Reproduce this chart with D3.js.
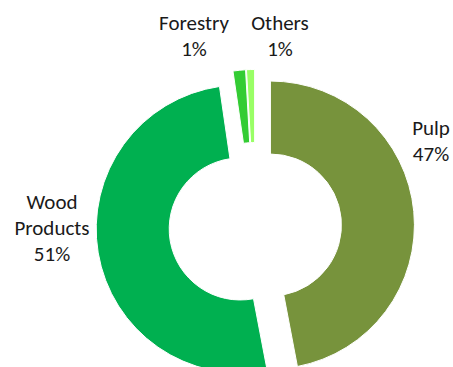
<!DOCTYPE html>
<html>
<head>
<meta charset="utf-8">
<script src="https://cdn.jsdelivr.net/npm/d3@7/dist/d3.min.js"></script>
<style>
  body { margin: 0; background: #fff; }
  text { font-family: Carlito, Lato, "Liberation Sans", sans-serif; font-size: 21px; fill: #1a1a1a; }
</style>
</head>
<body>
<div id="chart"></div>
<script>
// data
var categories = ["Pulp", "Wood Products", "Forestry", "Others"];
var shares = [47.0, 50.7, 1.4, 0.9];
var colors = ["#77933c", "#00b050", "#33cc33", "#99ff66"];

// layout
var width = 453, height = 367;
var cx = 255, cy = 226.5;
var outerR = 144, innerR = 71;
var explode = [15.5, 15, 13, 13];
// label anchors relative to the pie centre, one per slice
var labelAt = [[176, -92], [-203, -18], [-61, -197], [25, -197]];
var labelLines = [["Pulp"], ["Wood", "Products"], ["Forestry"], ["Others"]];

var svg = d3.select("#chart")
  .append("svg")
    .attr("width", width)
    .attr("height", height)
  .append("g")
    .attr("transform", "translate(" + cx + "," + cy + ")");

var pie = d3.pie().sort(null).value(function (d) { return d; });
var arc = d3.arc().innerRadius(innerR).outerRadius(outerR);

var slices = pie(shares);

svg.selectAll("path.slice")
    .data(slices)
  .enter().append("path")
    .attr("class", "slice")
    .attr("d", arc)
    .attr("fill", function (d, i) { return colors[i]; })
    .attr("stroke", "#fff")
    .attr("stroke-width", 1)
    .attr("transform", function (d, i) {
      var a = (d.startAngle + d.endAngle) / 2;
      return "translate(" + (explode[i] * Math.sin(a)) + "," + (-explode[i] * Math.cos(a)) + ")";
    });

var lbl = svg.selectAll("text.lbl")
    .data(slices)
  .enter().append("text")
    .attr("class", "lbl")
    .attr("text-anchor", "middle")
    .attr("transform", function (d, i) {
      return "translate(" + labelAt[i][0] + "," + labelAt[i][1] + ")";
    });

lbl.each(function (d, i) {
  var t = d3.select(this);
  var lines = labelLines[i].concat([Math.round(shares[i]) + "%"]);
  lines.forEach(function (s, k) {
    t.append("tspan").attr("x", 0).attr("dy", k === 0 ? 0 : 26).text(s);
  });
});
</script>
</body>
</html>
